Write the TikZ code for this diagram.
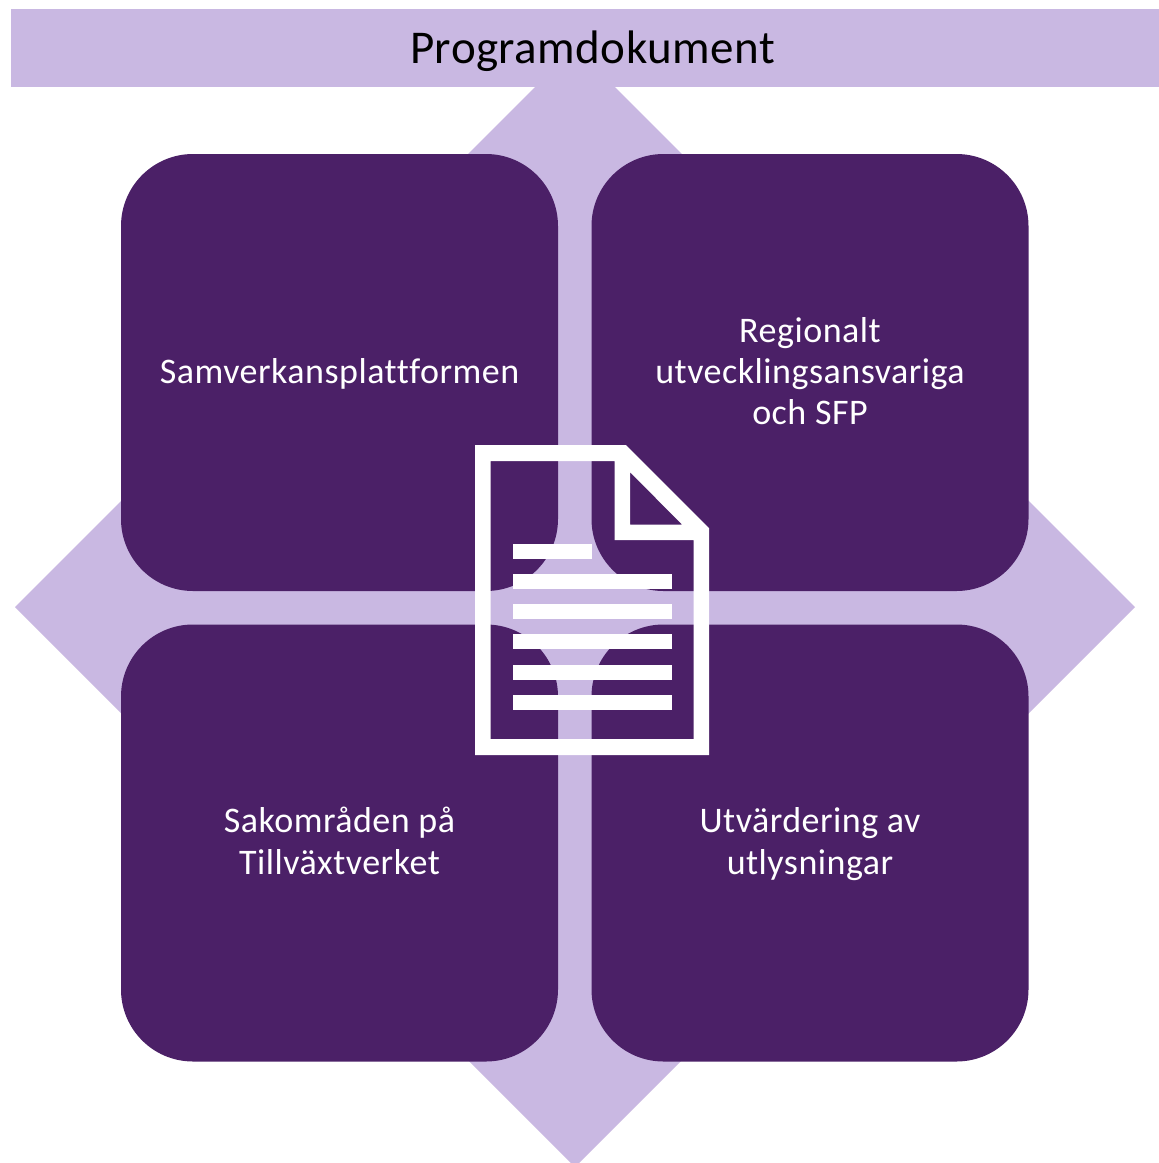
\documentclass[tikz,border=0pt]{standalone}
\usepackage{fontspec}
\setmainfont[Ligatures=NoCommon]{Carlito}
\newfontface\bodyface[LetterSpace=1.4,Ligatures=NoCommon]{Carlito}
\newfontface\titleface[LetterSpace=1.0,Ligatures=NoCommon]{Carlito}
\definecolor{lilac}{HTML}{C9B8E2}
\definecolor{deep}{HTML}{4B2067}
\tikzset{
  tile/.style={fill=deep,draw=none,rounded corners=72pt},
  tilelabel/.style={text=white,align=center,font=\bodyface\fontsize{36}{41}\selectfont,inner sep=0pt,anchor=base},
  band/.style={fill=lilac,draw=none},
  ink/.style={fill=white,draw=none}
}
\begin{document}
\begin{tikzpicture}[x=1pt,y=-1pt]
\useasboundingbox (0,0) rectangle (1159,1163);
\fill[white] (0,0) rectangle (1159,1163);
\begin{scope}
\clip (0,0) rectangle (1159,1163);
\path[band] (575,47) -- (1135,607) -- (575,1167) -- (15,607) -- cycle;
\end{scope}
\path[band] (11,9) rectangle (1159,87);
\node[text=black,font=\titleface\fontsize{47}{50}\selectfont,inner sep=0pt,anchor=base] (title) at (592.5,63) {Programdokument};
\path[tile] (121,154) rectangle (558,591);
\path[tile] (591.5,154) rectangle (1028.5,591);
\path[tile] (121,624.5) rectangle (558,1061.5);
\path[tile] (591.5,624.5) rectangle (1028.5,1061.5);
\node[tilelabel] (a) at (339.5,383) {Samverkansplattformen};
\node[tilelabel] (b1) at (810,342) {Regionalt};
\node[tilelabel] (b2) at (810,383) {utvecklingsansvariga};
\node[tilelabel] (b3) at (810,424) {och SFP};
\node[tilelabel] (c1) at (339.5,832) {Sakområden på};
\node[tilelabel] (c2) at (339.5,874) {Tillväxtverket};
\node[tilelabel] (d1) at (810,832) {Utvärdering av};
\node[tilelabel] (d2) at (810,874) {utlysningar};
% document icon
\path[ink,even odd rule]
  (475,445) -- (626,445) -- (709,528) -- (709,755) -- (475,755) -- cycle
  (490.7,461) -- (490.7,739) -- (693.5,739) -- (693.5,540) -- (614.5,540) -- (614.5,461) -- cycle
  (630,472) -- (630,524.5) -- (682,524.5) -- cycle;
\path[ink] (513,544) rectangle (592,559);
\path[ink] (513,574) rectangle (671.5,589);
\path[ink] (513,604) rectangle (671.5,619);
\path[ink] (513,634) rectangle (671.5,649);
\path[ink] (513,664.5) rectangle (671.5,679.5);
\path[ink] (513,694.5) rectangle (671.5,710);
\end{tikzpicture}
\end{document}
